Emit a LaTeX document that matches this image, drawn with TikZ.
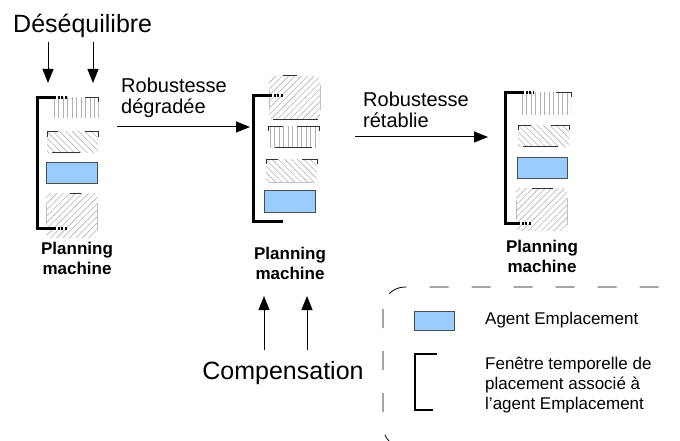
\documentclass[tikz,border=0pt]{standalone}
\usepackage{fontspec}
\setmainfont{Liberation Sans}
\usetikzlibrary{arrows.meta,patterns.meta}
\definecolor{agentblue}{RGB}{153,204,255}

\begin{document}
\begin{tikzpicture}[x = 1pt, y = -1pt, >= {Triangle[length=14pt,width=11pt]},
    hatchNE/.style = {pattern = {Lines[angle=45,distance=4.5pt,line width=.6pt]}, pattern color = gray!60},
    hatchNW/.style = {pattern = {Lines[angle=-45,distance=4.5pt,line width=.6pt]}, pattern color = gray!60},
    hatchV/.style = {pattern = {Lines[angle=90,distance=4.5pt,line width=.6pt]}, pattern color = gray!60},
    agent/.style = {fill = agentblue, draw = black!70, line width = .8pt},
    window/.style = {line width = 3pt},
    windowend/.style = {line width = 3pt, dash pattern = on 2pt off 1.5pt},
    rim/.style = {draw = black!80, line width = 1pt},
    faint/.style = {draw = gray!50, line width = .8pt},
    flow/.style = {->, line width = 1pt},
    big/.style = {font = \fontsize{25}{29}\selectfont, inner sep = 0pt},
    mid/.style = {font = \fontsize{20}{21}\selectfont, inner sep = 0pt, align = left},
    small/.style = {font = \fontsize{17}{20}\selectfont, inner sep = 0pt, align = left},
    caption/.style = {font = \fontsize{17}{20}\selectfont\bfseries, inner sep = 0pt, align = center}]
          \clip (0, 0) rectangle (680, 441);

          \fill[hatchV] (50, 98) rectangle (98, 118);
          \draw[rim] (85, 98) -- (98, 98) -- (98, 102);
          \draw[faint] (98, 102) -- (98, 118);
          \fill[hatchNW] (47, 132) rectangle (98, 153);
          \draw[rim] (47, 137) -- (47, 132) -- (58, 132);
          \draw[rim] (85, 132) -- (98, 132) -- (98, 137);
          \draw[rim] (52, 153) -- (80, 153);
          \draw[agent] (46, 162) rectangle (97, 183);
          \fill[hatchNE, rounded corners = 4pt] (46, 193) rectangle (97, 238);
          \draw[rim] (70, 193) -- (81, 193);
          \draw[faint] (46, 205) -- (46, 225);
          \draw[faint] (97, 203) -- (97, 230);
          \draw[window] (54, 98) -- (37, 98) -- (37, 228) -- (54, 228);
          \draw[windowend] (54, 98) -- (68, 98);
          \draw[windowend] (54, 228) -- (68, 228);

          \fill[hatchNE, rounded corners = 4pt] (269, 76) rectangle (320, 120);
          \draw[rim] (283, 76) -- (297, 76);
          \draw[rim] (273, 120) -- (318, 120);
          \draw[faint] (269, 90) -- (269, 110);
          \draw[faint] (320, 85) -- (320, 110);
          \fill[hatchV] (268, 127) rectangle (319, 148);
          \draw[rim] (268, 131) -- (268, 127) -- (283, 127);
          \draw[rim] (297, 127) -- (319, 127) -- (319, 131);
          \draw[rim] (275, 148) -- (312, 148);
          \fill[hatchNW] (266, 160) rectangle (317, 182);
          \draw[rim] (266, 164) -- (266, 160) -- (278, 160);
          \draw[rim] (302, 160) -- (317, 160) -- (317, 164);
          \draw[faint] (270, 182) -- (313, 182);
          \draw[agent] (264, 190) rectangle (315, 212);
          \draw[window] (270, 96) -- (253, 96) -- (253, 221) -- (283, 221);
          \draw[windowend] (270, 96) -- (283, 96);

          \fill[hatchV] (522, 93) rectangle (571, 115);
          \draw[rim] (556, 93) -- (571, 93) -- (571, 97);
          \fill[hatchNW] (518, 126) rectangle (569, 147);
          \draw[rim] (518, 130) -- (518, 126) -- (531, 126);
          \draw[rim] (551, 126) -- (569, 126) -- (569, 130);
          \draw[rim] (523, 147) -- (558, 147);
          \draw[agent] (517, 157) rectangle (567, 178);
          \fill[hatchNE, rounded corners = 4pt] (516, 188) rectangle (567, 231);
          \draw[rim] (532, 188) -- (553, 188);
          \draw[faint] (516, 200) -- (516, 220);
          \draw[faint] (567, 198) -- (567, 225);
          \draw[window] (522, 93) -- (505, 93) -- (505, 223) -- (518, 223);
          \draw[windowend] (522, 93) -- (533, 93);
          \draw[windowend] (518, 223) -- (532, 223);

          \node[big, anchor = base west] (deseq) at (13, 33) {Déséquilibre};
          \coordinate (deseqa) at (48, 42);
          \coordinate (deseqb) at (48, 83);
          \coordinate (deseqc) at (93, 42);
          \coordinate (deseqd) at (93, 83);
          \draw[flow] (deseqa) -- (deseqb);
          \draw[flow] (deseqc) -- (deseqd);

          \node[mid, anchor = north west] (degrade) at (121, 78) {Robustesse\\dégradée};
          \coordinate (degradea) at (117, 127);
          \coordinate (degradeb) at (250, 127);
          \draw[flow] (degradea) -- (degradeb);

          \node[mid, anchor = north west] (retabli) at (363, 92) {Robustesse\\rétablie};
          \coordinate (retablia) at (355, 137);
          \coordinate (retablib) at (488, 137);
          \draw[flow] (retablia) -- (retablib);

          \node[caption] (machine1) at (77, 258) {Planning\\machine};
          \node[caption] (machine2) at (290, 263) {Planning\\machine};
          \node[caption] (machine3) at (542, 256) {Planning\\machine};

          \node[big] (compens) at (283, 373) {Compensation};
          \coordinate (compensa) at (264, 350);
          \coordinate (compensb) at (264, 296);
          \coordinate (compensc) at (307, 350);
          \coordinate (compensd) at (307, 296);
          \draw[flow] (compensa) -- (compensb);
          \draw[flow] (compensc) -- (compensd);

          \draw[line width = .8pt, dash pattern = on 19pt off 23pt, rounded corners = 22pt] (383, 287) rectangle (700, 448);
          \draw[agent] (414, 311) rectangle (454, 330);
          \node[small, anchor = west] (agentlbl) at (485, 320) {Agent Emplacement};
          \draw[line width = 2pt] (437, 354) -- (415, 354) -- (415, 410) -- (433, 410);
          \node[small, anchor = north west] (windowlbl) at (485, 357) {Fenêtre temporelle de\\placement associé à\\l'agent Emplacement};
        \end{tikzpicture}
\end{document}
